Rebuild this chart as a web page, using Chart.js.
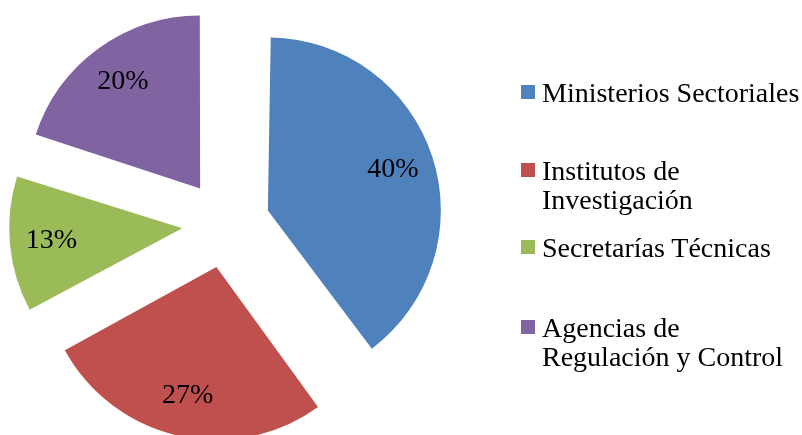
<!DOCTYPE html>
<html>
<head>
<meta charset="utf-8">
<script src="https://cdn.jsdelivr.net/npm/chart.js@4.4.1/dist/chart.umd.min.js"></script>
<style>
  body { margin: 0; background: #fff; }
  #wrap { position: relative; width: 802px; height: 435px; }
  #legend { position: absolute; left: 0; top: 0; font-family: "Liberation Serif", serif; font-size: 28px; line-height: 29px; color: #000; }
  .item { position: absolute; left: 542px; white-space: nowrap; }
  .box { position: absolute; left: -21px; top: 7px; width: 14px; height: 14px; }
</style>
</head>
<body>
<div id="wrap">
  <canvas id="chart" width="802" height="435"></canvas>
  <div id="legend"></div>
</div>
<script>
const labels = ["Ministerios Sectoriales", "Institutos de\nInvestigación", "Secretarías Técnicas", "Agencias de\nRegulación y Control"];
const values = [40, 27, 13, 20];
const colors = ["#4F81BD", "#C0504D", "#9BBB59", "#8064A2"];

const explode = 44;   // px each slice is pulled out
const pieRadius = 173;

// legend rows (top of text block)
const legendTops = [78, 156, 233, 313];

const legend = document.getElementById("legend");
labels.forEach((text, i) => {
    const item = document.createElement("div");
    item.className = "item";
    item.style.top = legendTops[i] + "px";
    item.innerHTML = text.replace("\n", "<br>");
    const box = document.createElement("span");
    box.className = "box";
    box.style.background = colors[i];
    item.appendChild(box);
    legend.appendChild(item);
});

// keep every slice the same radius (arc.draw grows it when offset is set)
const sameRadius = {
    id: "sameRadius",
    afterUpdate(chart) {
        const meta = chart.getDatasetMeta(0);
        meta.data.forEach(arc => {
            const circ = arc.endAngle - arc.startAngle;
            const fix = 1 - Math.sin(Math.min(Math.PI, circ));
            arc.outerRadius = pieRadius - explode * fix;
        });
    }
};

const pctLabels = {
    id: "pctLabels",
    afterDatasetsDraw(chart) {
        const ctx = chart.ctx;
        const meta = chart.getDatasetMeta(0);
        const total = values.reduce((a, b) => a + b, 0);
        ctx.save();
        ctx.font = '28px "Liberation Serif"';
        ctx.fillStyle = "#000";
        ctx.textAlign = "center";
        ctx.textBaseline = "middle";
        meta.data.forEach((arc, i) => {
            const mid = (arc.startAngle + arc.endAngle) / 2;
            const d = explode + pieRadius * 0.76;
            const x = arc.x + Math.cos(mid) * d;
            const y = arc.y + Math.sin(mid) * d;
            ctx.fillText(Math.round(values[i] / total * 100) + "%", x, y);
        });
        ctx.restore();
    }
};

new Chart(document.getElementById("chart"), {
    type: "pie",
    data: {
        labels: labels,
        datasets: [{
            data: values,
            backgroundColor: colors,
            borderWidth: 0,
            offset: explode * 4
        }]
    },
    options: {
        responsive: false,
        animation: false,
        radius: pieRadius,
        layout: { padding: { left: 0, right: 350, top: 13, bottom: 0 } },
        plugins: {
            legend: { display: false },
            tooltip: { enabled: false }
        }
    },
    plugins: [sameRadius, pctLabels]
});
</script>
</body>
</html>
